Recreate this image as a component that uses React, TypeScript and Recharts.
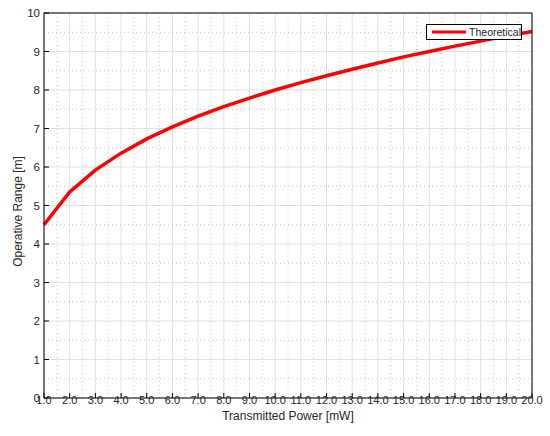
import React from "react";
import {
  LineChart,
  Line,
  XAxis,
  YAxis,
  CartesianGrid,
  Legend,
} from "recharts";

const powerMW = [1, 2, 3, 4, 5, 6, 7, 8, 9, 10, 11, 12, 13, 14, 15, 16, 17, 18, 19, 20];
const rangeTheoretical = [
  4.5, 5.35, 5.92, 6.36, 6.73, 7.04, 7.32, 7.57, 7.79, 8.0,
  8.19, 8.37, 8.54, 8.7, 8.86, 9.0, 9.14, 9.27, 9.4, 9.52,
];
const xTicks = [1, 2, 3, 4, 5, 6, 7, 8, 9, 10, 11, 12, 13, 14, 15, 16, 17, 18, 19, 20];
const yTicks = [0, 1, 2, 3, 4, 5, 6, 7, 8, 9, 10];
const xMinor = [1.5, 2.5, 3.5, 4.5, 5.5, 6.5, 7.5, 8.5, 9.5, 10.5, 11.5, 12.5, 13.5, 14.5, 15.5, 16.5, 17.5, 18.5, 19.5];
const yMinor = [0.5, 1.5, 2.5, 3.5, 4.5, 5.5, 6.5, 7.5, 8.5, 9.5];

const data = powerMW.map((p, i) => ({ p, r: rangeTheoretical[i] }));

const FONT = "'Liberation Sans', Arial, Helvetica, sans-serif";
const TEXT = "#262626";

const LegendBox = () => (
  <div
    style={{
      width: 96,
      height: 16,
      boxSizing: "border-box",
      border: "1px solid #000",
      background: "#fff",
      display: "flex",
      alignItems: "center",
      paddingLeft: 5,
      fontFamily: FONT,
      fontSize: 10.5,
      color: TEXT,
    }}
  >
    <svg width={35} height={4} style={{ display: "block" }}>
      <line x1={0} y1={2} x2={35} y2={2} stroke="#ff0000" strokeWidth={3} />
    </svg>
    <span style={{ marginLeft: 3, lineHeight: "14px" }}>Theoretical</span>
  </div>
);

export default function App() {
  return (
    <div style={{ position: "absolute", left: 0, top: 0, width: 550, height: 436, background: "#fff" }}>
      <LineChart
        width={550}
        height={436}
        data={data}
        margin={{ top: 12, right: 17, left: 0, bottom: 0 }}
        style={{ fontFamily: FONT }}
      >
        <CartesianGrid
          xAxisId="main"
          yAxisId="main"
          stroke="#e0e0e0"
          strokeWidth={1}
          verticalValues={xTicks}
          horizontalValues={yTicks}
        />
        <CartesianGrid
          xAxisId="main"
          yAxisId="main"
          stroke="#c4c4c4"
          strokeWidth={1}
          strokeDasharray="1 3"
          verticalValues={xMinor}
          horizontalValues={yMinor}
        />
        <XAxis
          xAxisId="main"
          dataKey="p"
          type="number"
          domain={[1, 20]}
          ticks={xTicks}
          interval={0}
          tickFormatter={(v: number) => v.toFixed(1)}
          height={38}
          tickSize={-5}
          tickMargin={3}
          stroke="#000"
          tick={{ fill: TEXT, fontSize: 11, fontFamily: FONT }}
          label={{
            value: "Transmitted Power [mW]",
            position: "insideBottom",
            offset: 16,
            fill: TEXT,
            fontSize: 12,
            fontFamily: FONT,
          }}
        />
        <XAxis
          xAxisId="top"
          orientation="top"
          dataKey="p"
          type="number"
          domain={[1, 20]}
          ticks={xTicks}
          interval={0}
          height={1}
          tickSize={-5}
          tick={false}
          stroke="#000"
        />
        <YAxis
          yAxisId="main"
          type="number"
          domain={[0, 10]}
          ticks={yTicks}
          interval={0}
          width={44}
          tickSize={-5}
          tickMargin={9}
          stroke="#000"
          tick={{ fill: TEXT, fontSize: 11.5, fontFamily: FONT }}
          label={{
            value: "Operative Range [m]",
            angle: -90,
            position: "center",
            dx: -4.5,
            dy: 6,
            fill: TEXT,
            fontSize: 12,
            fontFamily: FONT,
          }}
        />
        <YAxis
          yAxisId="right"
          orientation="right"
          type="number"
          domain={[0, 10]}
          ticks={yTicks}
          interval={0}
          width={1}
          tickSize={-5}
          tick={false}
          stroke="#000"
        />
        <Legend
          layout="horizontal"
          verticalAlign="middle"
          align="center"
          content={() => <LegendBox />}
          wrapperStyle={{ top: 24, left: 426, width: 96, height: 16 }}
        />
        <Line
          xAxisId="main"
          yAxisId="main"
          type="linear"
          dataKey="r"
          name="Theoretical"
          stroke="#ff0000"
          strokeWidth={3.5}
          dot={false}
          isAnimationActive={false}
        />
      </LineChart>
    </div>
  );
}
